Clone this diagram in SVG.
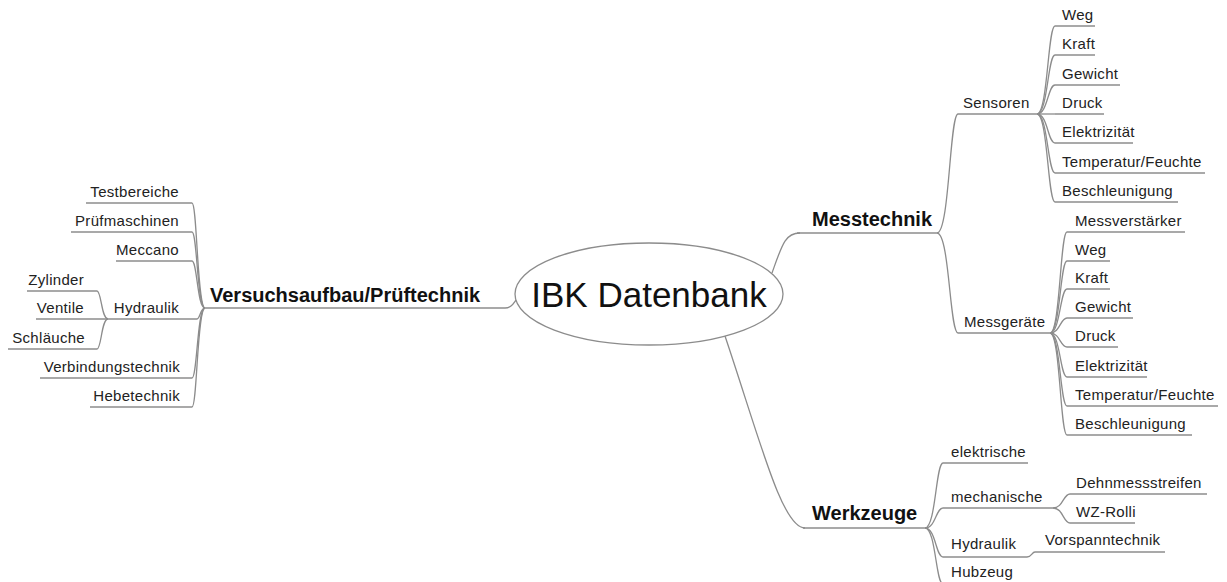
<svg xmlns="http://www.w3.org/2000/svg" width="1227" height="582" viewBox="0 0 1227 582">
<style>
.ln{fill:none;stroke:#8c8c8c;stroke-width:1.3}
.t{font-family:"Liberation Sans",Arial,sans-serif;font-size:15px;fill:#222;letter-spacing:0.3px}
.e{text-anchor:end}
.b{font-family:"Liberation Sans",Arial,sans-serif;font-size:20px;font-weight:bold;fill:#111}
.c{font-family:"Liberation Sans",Arial,sans-serif;font-size:35px;fill:#111}
</style>
<rect width="1227" height="582" fill="#fff"/>
<g id="connectors">
<!-- root to main branches -->
<path class="ln" d="M505 308 C511 308 513 304 516 300"/>
<path class="ln" d="M772 273 C782 245 785 233 800 233"/>
<path class="ln" d="M725 336 C760 440 782 528 805 528"/>
<!-- Versuchsaufbau children -->
<path class="ln" d="M205 308 C197.2 308 197.2 203 192 203"/>
<path class="ln" d="M205 308 C197.2 308 197.2 232 192 232"/>
<path class="ln" d="M205 308 C197.2 308 197.2 261 192 261"/>
<path class="ln" d="M205 308 C200.2 308 200.2 319 197 319"/>
<path class="ln" d="M205 308 C197.2 308 197.2 378 192 378"/>
<path class="ln" d="M205 308 C197.2 308 197.2 407 192 407"/>
<!-- Hydraulik (left) children -->
<path class="ln" d="M108 319 C101.4 319 101.4 291 97 291"/>
<path class="ln" d="M108 319 C101.4 319 101.4 349 97 349"/>
<!-- Messtechnik children -->
<path class="ln" d="M937 233 C949.6 233 949.6 114 958 114"/>
<path class="ln" d="M937 233 C949.6 233 949.6 333 958 333"/>
<!-- Sensoren children -->
<path class="ln" d="M1037 114 C1047.8 114 1047.8 26 1055 26"/>
<path class="ln" d="M1037 114 C1047.8 114 1047.8 55 1055 55"/>
<path class="ln" d="M1037 114 C1047.8 114 1047.8 85 1055 85"/>
<path class="ln" d="M1037 114 L1055 114"/>
<path class="ln" d="M1037 114 C1047.8 114 1047.8 143 1055 143"/>
<path class="ln" d="M1037 114 C1047.8 114 1047.8 173 1055 173"/>
<path class="ln" d="M1037 114 C1047.8 114 1047.8 202 1055 202"/>
<!-- Messgeräte children -->
<path class="ln" d="M1050 333 C1060.2 333 1060.2 232 1067 232"/>
<path class="ln" d="M1050 333 C1060.2 333 1060.2 261 1067 261"/>
<path class="ln" d="M1050 333 C1060.2 333 1060.2 289 1067 289"/>
<path class="ln" d="M1050 333 C1060.2 333 1060.2 318 1067 318"/>
<path class="ln" d="M1050 333 C1060.2 333 1060.2 347 1067 347"/>
<path class="ln" d="M1050 333 C1060.2 333 1060.2 377 1067 377"/>
<path class="ln" d="M1050 333 C1060.2 333 1060.2 406 1067 406"/>
<path class="ln" d="M1050 333 C1060.2 333 1060.2 435 1067 435"/>
<!-- Werkzeuge children -->
<path class="ln" d="M925 528 C935.8 528 935.8 463 943 463"/>
<path class="ln" d="M925 528 C935.8 528 935.8 508 943 508"/>
<path class="ln" d="M925 528 C935.8 528 935.8 557 943 557"/>
<path class="ln" d="M925 528 C935.8 528 935.8 584 943 584"/>
<!-- mechanische children -->
<path class="ln" d="M1053 508 C1063.2 508 1063.2 494 1070 494"/>
<path class="ln" d="M1053 508 C1063.2 508 1063.2 523 1070 523"/>
<!-- Hydraulik (Werkzeuge) child -->
<path class="ln" d="M1027 557 C1031.8 557 1031.8 552 1035 552"/>
</g>

<g id="root">
<ellipse cx="649" cy="294" rx="134" ry="51" fill="#fff" stroke="#8c8c8c" stroke-width="1.3"/>
<text class="c" x="649" y="307" text-anchor="middle">IBK Datenbank</text>
</g>

<g id="versuchsaufbau">
<path class="ln" d="M205 308 H505"/>
<text class="b" x="210" y="302">Versuchsaufbau/Prüftechnik</text>
</g>
<g id="testbereiche"><path class="ln" d="M86 203 H192"/><text class="t e" x="179" y="197">Testbereiche</text></g>
<g id="pruefmaschinen"><path class="ln" d="M71 232 H192"/><text class="t e" x="179" y="226">Prüfmaschinen</text></g>
<g id="meccano"><path class="ln" d="M116 261 H192"/><text class="t e" x="179" y="255">Meccano</text></g>
<g id="hydraulik-l"><path class="ln" d="M108 319 H197"/><text class="t e" x="179" y="313">Hydraulik</text></g>
<g id="zylinder"><path class="ln" d="M27 291 H97"/><text class="t e" x="84" y="285">Zylinder</text></g>
<g id="ventile"><path class="ln" d="M36 319 H108"/><text class="t e" x="84" y="313">Ventile</text></g>
<g id="schlaeuche"><path class="ln" d="M8 349 H97"/><text class="t e" x="85" y="343">Schläuche</text></g>
<g id="verbindungstechnik"><path class="ln" d="M40 378 H192"/><text class="t e" x="180" y="372">Verbindungstechnik</text></g>
<g id="hebetechnik"><path class="ln" d="M90 407 H192"/><text class="t e" x="180" y="401">Hebetechnik</text></g>

<g id="messtechnik"><path class="ln" d="M797 233 H937"/><text class="b" x="812" y="226">Messtechnik</text></g>
<g id="sensoren"><path class="ln" d="M958 114 H1037"/><text class="t" x="963" y="108">Sensoren</text></g>
<g id="s-weg"><path class="ln" d="M1055 26 H1095"/><text class="t" x="1062" y="20">Weg</text></g>
<g id="s-kraft"><path class="ln" d="M1055 55 H1095"/><text class="t" x="1062" y="49">Kraft</text></g>
<g id="s-gewicht"><path class="ln" d="M1055 85 H1120"/><text class="t" x="1062" y="79">Gewicht</text></g>
<g id="s-druck"><path class="ln" d="M1055 114 H1104"/><text class="t" x="1062" y="108">Druck</text></g>
<g id="s-elektrizitaet"><path class="ln" d="M1055 143 H1133"/><text class="t" x="1062" y="137">Elektrizität</text></g>
<g id="s-temperatur"><path class="ln" d="M1055 173 H1205"/><text class="t" x="1062" y="167">Temperatur/Feuchte</text></g>
<g id="s-beschleunigung"><path class="ln" d="M1055 202 H1178"/><text class="t" x="1062" y="196">Beschleunigung</text></g>

<g id="messgeraete"><path class="ln" d="M958 333 H1050"/><text class="t" x="964" y="327">Messgeräte</text></g>
<g id="m-messverstaerker"><path class="ln" d="M1067 232 H1185"/><text class="t" x="1075" y="226">Messverstärker</text></g>
<g id="m-weg"><path class="ln" d="M1067 261 H1110"/><text class="t" x="1075" y="255">Weg</text></g>
<g id="m-kraft"><path class="ln" d="M1067 289 H1110"/><text class="t" x="1075" y="283">Kraft</text></g>
<g id="m-gewicht"><path class="ln" d="M1067 318 H1133"/><text class="t" x="1075" y="312">Gewicht</text></g>
<g id="m-druck"><path class="ln" d="M1067 347 H1118"/><text class="t" x="1075" y="341">Druck</text></g>
<g id="m-elektrizitaet"><path class="ln" d="M1067 377 H1147"/><text class="t" x="1075" y="371">Elektrizität</text></g>
<g id="m-temperatur"><path class="ln" d="M1067 406 H1218"/><text class="t" x="1075" y="400">Temperatur/Feuchte</text></g>
<g id="m-beschleunigung"><path class="ln" d="M1067 435 H1192"/><text class="t" x="1075" y="429">Beschleunigung</text></g>

<g id="werkzeuge"><path class="ln" d="M803 528 H925"/><text class="b" x="812" y="520">Werkzeuge</text></g>
<g id="elektrische"><path class="ln" d="M943 463 H1028"/><text class="t" x="951" y="457">elektrische</text></g>
<g id="mechanische"><path class="ln" d="M943 508 H1053"/><text class="t" x="951" y="502">mechanische</text></g>
<g id="dehnmessstreifen"><path class="ln" d="M1070 494 H1207"/><text class="t" x="1076" y="488">Dehnmessstreifen</text></g>
<g id="wz-rolli"><path class="ln" d="M1070 523 H1135"/><text class="t" x="1076" y="517">WZ-Rolli</text></g>
<g id="hydraulik-w"><path class="ln" d="M943 557 H1027"/><text class="t" x="951" y="549">Hydraulik</text></g>
<g id="vorspanntechnik"><path class="ln" d="M1035 552 H1165"/><text class="t" x="1045" y="545">Vorspanntechnik</text></g>
<g id="hubzeug"><path class="ln" d="M943 584 H1010"/><text class="t" x="951" y="577">Hubzeug</text></g>
</svg>
